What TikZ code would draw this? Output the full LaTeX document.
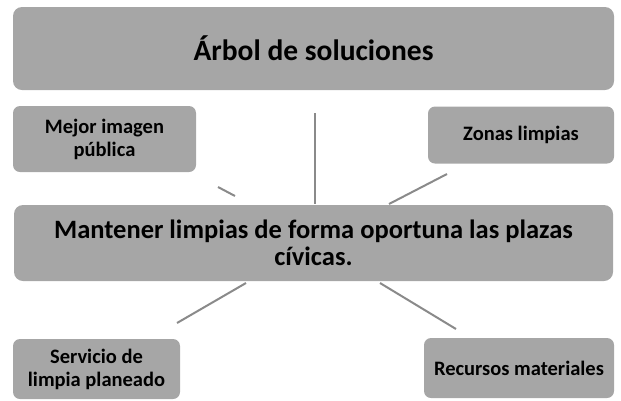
\documentclass[tikz,border=0pt]{standalone}
\usepackage{fontspec}
\setmainfont{Carlito}
\usetikzlibrary{positioning}
\definecolor{boxgray}{HTML}{A6A6A6}
\definecolor{linegray}{HTML}{8A8A8A}
\tikzset{
  box/.style={fill=boxgray, rounded corners=7pt, inner sep=2pt, align=center, font=\bfseries\fontsize{20.5}{23}\selectfont},
  bigbox/.style={box, rounded corners=9pt},
  link/.style={draw=linegray, line width=2pt},
}

\begin{document}
\begin{tikzpicture}[x=1pt,y=-1pt]
  \useasboundingbox (0,0) rectangle (621,400);
  % boxes
  \node[bigbox, minimum width=601pt, minimum height=83pt, font=\bfseries\fontsize{29.5}{34}\selectfont]
    (title) at (313.5,48.5) {Árbol de soluciones};
  \node[box, minimum width=183pt, minimum height=66pt] (mejor) at (104.5,139) {Mejor imagen\\pública};
  \node[box, minimum width=186pt, minimum height=57pt] (zonas) at (521,135) {Zonas limpias};
  \node[bigbox, minimum width=599pt, minimum height=76pt, font=\bfseries\fontsize{26.5}{27}\selectfont]
    (main) at (313.5,243) {Mantener limpias de forma oportuna las plazas\\cívicas.};
  \node[box, minimum width=167pt, minimum height=60pt] (servicio) at (96.5,369) {Servicio de\\limpia planeado};
  \node[box, minimum width=190pt, minimum height=60pt] (recursos) at (519,368) {Recursos materiales};
  % free ends of the links
  \coordinate (m1) at (218,187);
  \coordinate (m2) at (235,196);
  \coordinate (c1) at (315,113);
  \coordinate (c2) at (315,204);
  \coordinate (z1) at (447,174);
  \coordinate (z2) at (389,204);
  \coordinate (s1) at (246,283);
  \coordinate (s2) at (177,323);
  \coordinate (r1) at (380,283);
  \coordinate (r2) at (456,329);
  \draw[link] (m1) -- (m2);
  \draw[link] (c1) -- (c2);
  \draw[link] (z1) -- (z2);
  \draw[link] (s1) -- (s2);
  \draw[link] (r1) -- (r2);
\end{tikzpicture}
\end{document}
